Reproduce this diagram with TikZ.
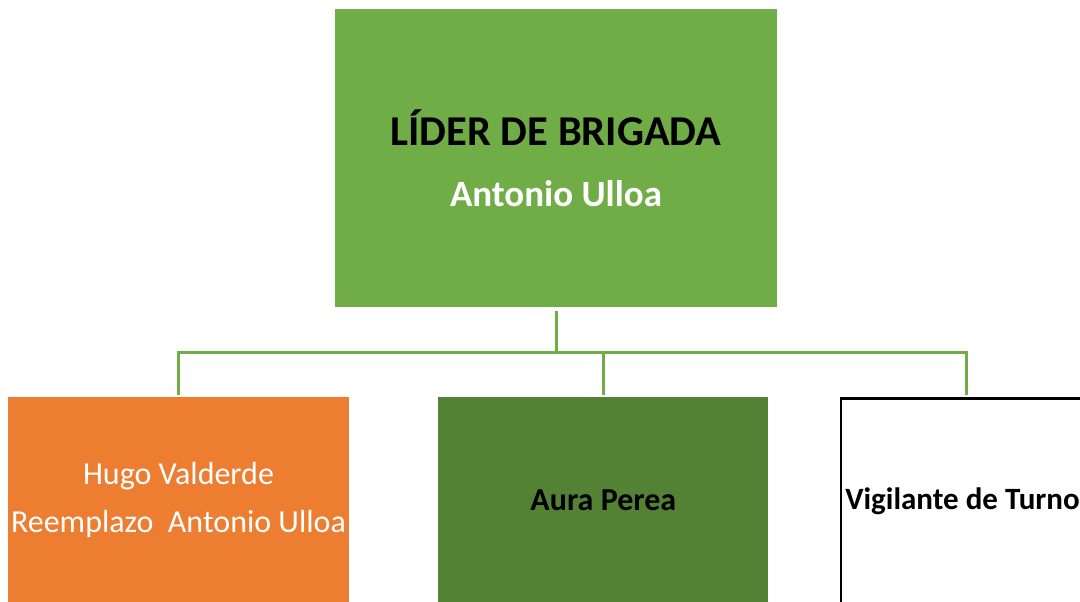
\documentclass[tikz,border=0pt]{standalone}
\usepackage{fontspec}
\setmainfont{Carlito}
\definecolor{lidergreen}{RGB}{112,173,71}
\definecolor{hugoorange}{RGB}{237,125,49}
\definecolor{auragreen}{RGB}{84,130,53}
\usetikzlibrary{positioning,calc}
\tikzset{
    cargo/.style={minimum width=#1,minimum height=206pt,inner sep=0pt,
                  align=center,anchor=north},
    enlace/.style={draw=lidergreen,line width=3pt}
}

\begin{document}
\begin{tikzpicture}[x=1pt,y=-1pt]
            \clip (0,0) rectangle (1080,602);
            \node[fill=lidergreen,minimum width=442pt,minimum height=298pt,
                  inner sep=0pt,align=center,
                  font=\fontsize{42.5}{61}\selectfont\bfseries] (lider) at (556,158) {
                L\'IDER DE BRIGADA\\
                {\fontsize{37}{61}\selectfont\color{white}Antonio Ulloa}
            };
            \node[cargo=341pt,fill=hugoorange,text=white,
                  font=\fontsize{32}{48}\selectfont] (hugo) at (178.5,397) {
                Hugo Valderde\\
                Reemplazo\ \ Antonio Ulloa
            };
            \node[cargo=330pt,fill=auragreen,
                  font=\fontsize{32}{38}\selectfont\bfseries] (aura) at (603,397) {
                \hspace*{8pt}Aura Perea
            };
            \node[cargo=250pt,draw=black,line width=2.6pt,fill=white,
                  font=\fontsize{31}{38}\selectfont\bfseries] (vigilante) at (966,397) {
                Vigilante de Turno
            };
            % lineas del organigrama
            \coordinate (bus) at (556,352);
            \draw[enlace] ([yshift=-4pt]lider.south) -- (bus);
            \draw[enlace] (bus) -| ([yshift=2pt]hugo.north);
            \draw[enlace] (bus) -| ([yshift=2pt]aura.north);
            \draw[enlace] (bus) -| ([yshift=2pt]vigilante.north);
        \end{tikzpicture}
\end{document}
